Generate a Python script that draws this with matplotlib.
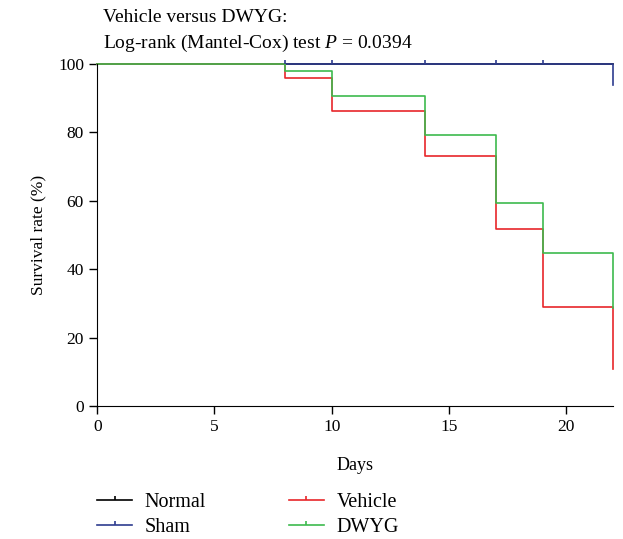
import matplotlib.pyplot as plt
from matplotlib.lines import Line2D

plt.rcParams['font.family'] = ['Liberation Serif', 'DejaVu Serif']
plt.rcParams['mathtext.fontset'] = 'custom'
plt.rcParams['mathtext.it'] = 'Liberation Serif:italic'
plt.rcParams['mathtext.rm'] = 'Liberation Serif'

# survival data
days = [0, 8, 10, 14, 17, 19, 22]
normal = [100, 100, 100, 100, 100, 100, 100]
sham = [100, 100, 100, 100, 100, 100, 94]
vehicle = [100, 96, 86.4, 73, 51.7, 29, 10.8]
dwyg = [100, 98, 90.7, 79.4, 59.5, 44.6, 28.5]
censor_days = [8, 10, 14, 17, 19]

names = ['Normal', 'Sham', 'Vehicle', 'DWYG']
colors = ['#000000', '#2e3c8f', '#e8262a', '#3dba4e']
series = [normal, sham, vehicle, dwyg]

fig = plt.figure(figsize=(6.23, 5.39), dpi=100)
ax = fig.add_axes([0.156, 0.247, 0.828, 0.634])

for s, c in zip(series, colors):
    ax.step(days, s, where='post', color=c, lw=1.2, clip_on=False)

# censor ticks on the sham line
ax.plot(censor_days, [100] * len(censor_days), ls='none', marker=2,
        color=colors[1], ms=3, mew=1.2, clip_on=False)

ax.set_xlim(0, 22)
ax.set_ylim(0, 100)
ax.set_xticks([0, 5, 10, 15, 20])
ax.set_yticks([0, 20, 40, 60, 80, 100])
ax.spines['top'].set_visible(False)
ax.spines['right'].set_visible(False)
ax.tick_params(labelsize=12.5, length=6, width=1)
ax.set_xlabel('Days', fontsize=13, labelpad=16)
ax.set_ylabel('Survival rate (%)', fontsize=12.5, labelpad=8)

fig.text(0.165, 0.968, 'Vehicle versus DWYG:', fontsize=14, va='center')
fig.text(0.165, 0.920, 'Log-rank (Mantel-Cox) test $P$ = 0.0394',
         fontsize=14, va='center')

handles = [Line2D([], [], color=c, lw=1.2, marker=2, ms=3, mew=1.2)
           for c in colors]
fig.legend(handles, names, ncol=2,
           loc='upper left', bbox_to_anchor=(0.133, 0.112), frameon=False,
           fontsize=14.5, handlelength=1.75, numpoints=1,
           columnspacing=4.1, labelspacing=0.32, handletextpad=0.62,
           borderpad=0.2)

fig.savefig('out.png', dpi=100)
